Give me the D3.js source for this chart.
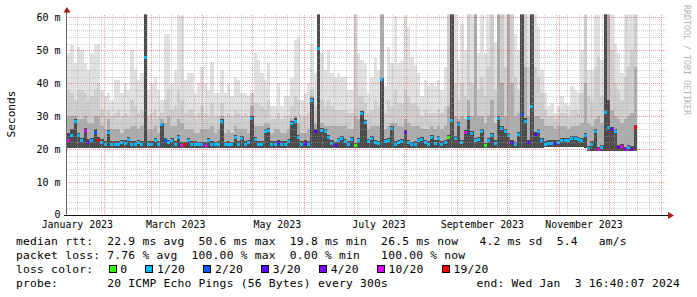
<!DOCTYPE html>
<html><head><meta charset="utf-8">
<script src="https://cdn.jsdelivr.net/npm/d3@7"></script>
<style>
html,body{margin:0;padding:0;background:#fff;}
svg{display:block;}
text{font-family:"DejaVu Sans Mono",monospace;fill:#000;}
</style></head><body>
<svg id="chart" width="697" height="297"></svg>
<script>
// ---------- data ----------
const yTicks = [0, 10, 20, 30, 40, 50, 60];
const yTickLabels = ["0", "10 m", "20 m", "30 m", "40 m", "50 m", "60 m"];
const monthLabels = ["January 2023", "March 2023", "May 2023", "July 2023", "September 2023", "November 2023"];
const monthLabelMonths = [0, 2, 4, 6, 8, 10];
const lossSteps = [0, 1, 2, 3, 4, 10, 19];
const lossLabels = ["0", "1/20", "2/20", "3/20", "4/20", "10/20", "19/20"];
const lossColors = ["#26ff00", "#00b8ff", "#0059ff", "#5e00ff", "#7e00ff", "#dd00ff", "#ff0000"];

// one value per 2-day bin (ms)
const medianRtt = [
 22.6,24,28.5,24,22.5,25.5,22,22.5,25,22.7,
 22,21.5,25,21.5,21.5,21.5,22,21.8,23,21.5,
 21.5,22,21.5,47.7,21.5,21.5,22.5,21.5,27.5,22.5,
 22,22.5,21.5,23.5,21.2,21.3,22.6,21.5,21.5,21.3,
 21.3,21.2,22.6,21.5,21.3,21.5,28.3,21.3,21.5,21.3,
 23.6,21.5,23.1,21.5,22,29.4,23,21.5,21.5,25.2,
 25.5,21.5,21.5,22,21.5,21.5,22.3,27.8,28.5,23.4,
 21.5,21.8,21.5,34.8,25.4,50.6,25.5,25.2,23.5,21.8,
 21.2,22.5,23.2,22.3,21.5,23,21,22.5,30.8,28.1,
 22.3,23.3,22,21.7,41,22.3,22.5,26.1,21.5,22,
 22.3,25,22,21.3,21.5,22.6,23,22,21.5,23.5,
 21.8,23.3,21.5,22,23.4,28.7,23.2,27.5,22,25,
 29.2,24.7,22.6,22.9,25.2,21,22.6,24,21.8,29.3,
 26.3,25.2,24.2,22.1,21.3,24.3,30.6,28.5,22,33,
 24.5,25.2,22.6,21.5,21.8,21.8,21.8,21.9,22.7,22.7,
 22.7,23.3,23.3,22.8,22.6,24,20.2,21.5,25.4,19.8,
 20.5,31.2,26.6,25.9,25.3,20.4,20.7,19.8,20.5,20,26.5
];
const lossCount = [
 10,1,1,1,1,10,3,1,2,19,
 1,1,1,1,1,1,1,1,1,1,
 1,1,1,1,1,1,1,1,1,2,
 1,1,1,1,10,19,1,1,1,1,
 1,10,1,1,1,1,1,1,1,1,
 1,1,1,1,1,1,1,1,1,1,
 1,1,1,3,1,1,1,1,1,1,
 1,3,1,1,3,1,1,1,1,1,
 3,1,1,1,1,1,0,1,1,1,
 1,1,1,1,1,1,1,1,1,1,
 1,3,1,1,1,1,1,1,1,1,
 1,1,1,1,0,1,1,1,1,10,
 1,1,1,1,1,0,1,1,1,1,
 1,1,1,3,1,1,2,1,3,1,
 3,1,1,1,1,1,3,1,1,1,
 1,1,1,1,1,1,1,1,1,10,
 1,1,1,3,1,3,10,4,1,3,19
];
const smokeMin = [
 20.4,20.4,20.4,20.4,20.4,20.4,20.4,20.4,20.4,20.4,
 20.4,20.4,20.4,20.4,20.4,20.4,20.4,20.4,20.4,20.4,
 20.4,20.4,20.4,20.4,20.4,20.4,20.4,20.4,20.4,20.4,
 20.4,20.4,20.4,20.4,20.4,20.4,20.4,20.4,20.4,20.4,
 20.4,20.4,20.4,20.4,20.4,20.4,20.4,20.4,20.4,20.4,
 20.4,20.4,20.4,20.4,20.4,20.4,20.4,20.4,20.4,20.4,
 20.4,20.4,20.4,20.4,20.4,20.4,20.4,20.4,20.4,20.4,
 20.4,20.4,20.4,20.4,20.4,20.4,20.4,20.4,20.4,20.4,
 20.4,20.4,20.4,20.4,20.4,20.4,20.4,20.4,20.4,20.4,
 20.4,20.4,20.4,20.4,20.4,20.4,20.4,20.4,20.4,20.4,
 20.4,20.4,20.4,20.4,20.4,20.4,20.4,20.4,20.4,20.4,
 20.4,20.4,20.4,20.4,20.4,20.4,20.4,20.4,20.4,20.4,
 20.4,20.4,20.4,20.4,20.4,20.4,20.4,20.4,20.4,20.4,
 20.4,20.4,20.4,20.4,20.4,20.4,20.4,20.4,20.4,20.4,
 20.4,20.4,20.4,20.6,20.6,20.6,20.6,20.6,20.6,20.6,
 20.6,20.6,20.6,20.6,20.6,20.4,19.4,19.4,19.4,19.4,
 19.4,19.4,19.4,19.4,19.4,19.4,19.4,19.4,19.4,19.4,19.4
];
const smokeDark = [
 25,26,29,25,23.5,26.5,23,23.5,26,23.8,
 23,22.3,25.8,22.3,22.3,22.3,22.8,22.6,23.8,22.3,
 22.3,22.8,22.3,62,22.3,22.3,23.3,22.3,28,23.3,
 22.8,23.3,22.3,24.3,22,22.1,23.4,22.3,22.3,22.1,
 22.1,22,23.4,22.3,22.1,22.3,29,22.1,22.3,22.1,
 24.4,22.3,23.9,22.3,22.8,30,23.8,22.3,22.3,26,
 26.3,22.3,22.3,22.8,22.3,22.3,23.1,28.6,29.3,24.2,
 22.3,22.6,22.3,35.5,26.2,62,26.3,26,24.3,22.6,
 22,23.3,24,23.1,22.3,23.8,21.8,23.3,31.5,28.9,
 23.1,24.1,22.8,22.5,41.5,23.1,23.3,26.9,22.3,22.8,
 23.1,25.8,22.8,22.1,22.3,23.4,23.8,22.8,22.3,24.3,
 22.6,24.1,22.3,22.8,24.2,62,24,28.3,22.8,25.8,
 30,25.5,23.4,23.7,26,21.8,23.4,24.8,22.6,30.1,
 27.1,26,25,22.9,22.1,25.1,62,29.3,22.8,62,
 25.3,26,23.4,22.3,22.6,22.6,22.6,22.7,23.5,23.5,
 23.5,24.1,24.1,23.6,23.4,24.8,21,22.3,26.2,20.6,
 21.3,62,35,26.7,26.1,21.2,21.5,20.6,21.3,20.8,27.3
];
const smokeMid = [
 30,30,30,29,29,30,28,28,30,30,
 27,26,29,26,26,26,25,26,26,27,
 27,26,27,62,26,26,27,25,29,28,
 30,27,27,29,28,26,26,26,25,25,
 26,26,26,27,25,26,30,25,26,25,
 27,26,26,26,25,33,27,27,27,28,
 28,25,26,26,25,25,26,29,30,28,
 25,25,26,36,28,62,28,27,27,27,
 27,27,27,27,26,26,30,29,32,29,
 26,27,27,27,62,26,27,28,28,27,
 27,29,28,27,27,27,26,26,26,27,
 26,27,26,27,33,62,30,29,30,29,
 35,30,62,30,30,28,30,35,28,62,
 40,30,62,40,30,31,62,45,30,62,
 30,30,29,27,27,27,26,27,27,27,
 26,27,27,27,28,40,28,27,29,30,
 28,62,62,32,30,29,28,29,30,31,45
];
const smokeLight = [
 38,37,35,38,38,37,35,36,38,40,
 32,30,32,30,31,32,30,31,30,35,
 33,31,32,62,30,31,32,30,31,35,
 38,32,33,38,35,31,32,32,30,31,
 33,31,30,34,30,30,34,30,31,30,
 32,31,30,31,30,37,34,34,33,32,
 35,29,29,31,29,30,30,33,36,35,
 30,30,31,38,33,62,35,33,35,33,
 32,32,32,32,31,31,61.5,36,36,34,
 31,32,35,33,62,31,35,33,38,34,
 34,38,36,34,34,33,30,32,31,31,
 31,32,31,33,61.5,62,40,35,40,36,
 62,40,62,38,42,36,45,62,38,62,
 62,45,62,62,42,38,62,62,45,62,
 45,42,37,32,30,30,29,30,31,31,
 30,32,32,31,37,62,36,35,45,48,
 36,62,62,50,40,38,35,42,45,50,62
];
const smokeMax = [
 49,51.5,46,51,50,46,44,49,51.5,52,
 38,36,37,35,41,41,37,40,38,50,
 44,41,43,62,38,40,42,38,35,55,
 55,40,44,61,60.5,41,43,43,37,40,
 45,40,38,46.4,37,37,44,37,40,36,
 42,41,37,37,36,37,49,47,43,41,
 46,33,33,40,33,36,36,41.5,53,54,
 35,37,40,52,43,62,49,44,50,43,
 42,43,42,42,38,38,61.5,49,47,46,
 37,42,47.5,44,62,39,51,46,60.5,46,
 47,60.5,57,48,45.5,43,36,41,39,40,
 39,41,38,45,61.5,62,61.5,47,58,50,
 62,62,62,49,62,49,62,62,52.5,62,
 62,62,62,62,55,50,62,62,62,62,
 62,57,44,37,33,34,31,33,36,34,
 33.5,39,38,37,50,62,44,44,62,62,
 47,62,62,62,52,49,43,62,62,62,62
];
const statsLines = [
 "median rtt:  22.9 ms avg  50.6 ms max  19.8 ms min  26.5 ms now   4.2 ms sd  5.4   am/s",
 "packet loss: 7.76 % avg  100.00 % max  0.00 % min   100.00 % now",
 "loss color:",
 "probe:       20 ICMP Echo Pings (56 Bytes) every 300s"
];
const endText = "end: Wed Jan  3 16:40:07 2024";
const yTitle = "Seconds";
const sideText = "RRDTOOL / TOBI OETIKER";

// ---------- chart ----------
const svg = d3.select("#chart");
const L = 67, R = 667, B = 215, T = 14.5;
const start = new Date(2023, 0, 9, 19, 0);
const end = d3.timeDay.offset(start, 360);
const x = d3.scaleTime().domain([start, end]).range([L, R]);
const y = d3.scaleLinear().domain([0, 60]).range([B, 17.2]);
const lossColor = d3.scaleOrdinal().domain(lossSteps).range(lossColors);

svg.append("rect").attr("width", 697).attr("height", 297).attr("fill", "#fff");

svg.append("clipPath").attr("id", "plotclip").append("rect")
  .attr("x", L).attr("y", T).attr("width", R - L).attr("height", B - T);

const bins = medianRtt.map((m, i) => ({
  t0: d3.timeHour.offset(start, 48 * i),
  t1: d3.timeHour.offset(start, 48 * (i + 1)),
  med: m, loss: lossCount[i], lo: smokeMin[i],
  s1: smokeDark[i], s2: smokeMid[i], s3: smokeLight[i], s4: smokeMax[i]
}));

const plot = svg.append("g").attr("clip-path", "url(#plotclip)");
const layers = [["s4", "#e1e1e1"], ["s3", "#cecece"], ["s2", "#adadad"], ["s1", "#4c4c4c"]];
layers.forEach(([k, col]) => {
  plot.append("g").attr("shape-rendering", "crispEdges").selectAll("rect").data(bins).join("rect")
    .attr("x", d => x(d.t0))
    .attr("width", d => x(d.t1) - x(d.t0))
    .attr("y", d => y(d[k]))
    .attr("height", d => Math.max(0, y(d.lo) - y(d[k])))
    .attr("fill", col);
});
plot.append("g").attr("shape-rendering", "crispEdges").selectAll("rect").data(bins).join("rect")
  .attr("x", d => x(d.t0))
  .attr("width", 3)
  .attr("y", d => y(d.med) - 1.5)
  .attr("height", 3)
  .attr("fill", d => lossColor(d.loss));

// grid (drawn over the data, as rrdtool does)
const grid = svg.append("g").attr("shape-rendering", "crispEdges");
const minorCol = "rgba(160,160,160,0.5)", majorCol = "rgba(235,50,50,0.5)";
const hMinor = d3.range(2, 61, 2).filter(v => v % 10 !== 0);
grid.selectAll("line.hm").data(hMinor).join("line")
  .attr("x1", L).attr("x2", R).attr("y1", d => Math.round(y(d)) + 0.5).attr("y2", d => Math.round(y(d)) + 0.5)
  .attr("stroke", minorCol).attr("stroke-dasharray", "1,1");
const vMinor = d3.timeMonday.range(start, end).filter(d => d.getDate() !== 1);
grid.selectAll("line.vm").data(vMinor).join("line")
  .attr("x1", d => Math.round(x(d)) + 0.5).attr("x2", d => Math.round(x(d)) + 0.5)
  .attr("y1", T).attr("y2", B)
  .attr("stroke", minorCol).attr("stroke-dasharray", "1,1");
grid.selectAll("line.hM").data(yTicks.filter(v => v > 0)).join("line")
  .attr("x1", L).attr("x2", R).attr("y1", d => Math.round(y(d)) + 0.5).attr("y2", d => Math.round(y(d)) + 0.5)
  .attr("stroke", majorCol).attr("stroke-dasharray", "1,1");
grid.selectAll("line.vM").data(d3.timeMonth.range(start, end)).join("line")
  .attr("x1", d => Math.round(x(d)) + 0.5).attr("x2", d => Math.round(x(d)) + 0.5)
  .attr("y1", T).attr("y2", B)
  .attr("stroke", majorCol).attr("stroke-dasharray", "1,1");

// axes
svg.append("line").attr("x1", L - 0.5).attr("x2", L - 0.5).attr("y1", B).attr("y2", 12)
  .attr("stroke", "#666").attr("shape-rendering", "crispEdges");
svg.append("line").attr("x1", L - 3).attr("x2", 669).attr("y1", B + 0.5).attr("y2", B + 0.5)
  .attr("stroke", "#111").attr("shape-rendering", "crispEdges");
svg.append("path").attr("d", "M63.5,12.5 L70.5,12.5 L67,7 Z").attr("fill", "#a01818");
svg.append("path").attr("d", "M668,212 L668,219 L674,215.5 Z").attr("fill", "#a01818");

// y labels
svg.append("g").selectAll("text").data(yTicks).join("text")
  .attr("x", 60.5).attr("y", d => y(d)).attr("dy", d => d === 0 ? "0.3em" : "0.36em")
  .attr("text-anchor", "end").attr("font-size", "10px")
  .text((d, i) => yTickLabels[i]);

// x labels (centered mid-month)
svg.append("g").selectAll("text").data(monthLabels).join("text")
  .attr("x", (d, i) => x(new Date(2023, monthLabelMonths[i], 16)))
  .attr("y", 228).attr("text-anchor", "middle").attr("font-size", "9.9px")
  .text(d => d);

svg.append("text").attr("transform", "translate(15,114) rotate(-90)")
  .attr("text-anchor", "middle").attr("font-size", "11.2px").text(yTitle);

svg.append("text").attr("transform", "translate(684,5) rotate(90)")
  .attr("font-size", "8.3px").style("fill", "#b4b4b4").text(sideText);

// legend
const base = [244.5, 258.5, 272.5, 286.5];
statsLines.forEach((s, i) => {
  svg.append("text").attr("x", 16).attr("y", base[i])
    .attr("font-size", "11.3px").attr("letter-spacing", "0.22px")
    .style("white-space", "pre").text(s);
});
const cw = 7.02;
let bx = 108.5;
lossLabels.forEach((lab, i) => {
  svg.append("rect").attr("x", bx + 0.5).attr("y", 265.5).attr("width", 7).attr("height", 7)
    .attr("fill", lossColors[i]).attr("stroke", "#000").attr("shape-rendering", "crispEdges");
  svg.append("text").attr("x", bx + 11.7).attr("y", base[2])
    .attr("font-size", "11.3px").attr("letter-spacing", "0.22px").text(lab);
  bx = bx + 11.7 + lab.length * cw + 18.1;
});
svg.append("text").attr("x", 680).attr("y", base[3]).attr("text-anchor", "end")
  .attr("font-size", "11.3px").attr("letter-spacing", "0.22px")
  .style("white-space", "pre").text(endText);
</script>
</body></html>
